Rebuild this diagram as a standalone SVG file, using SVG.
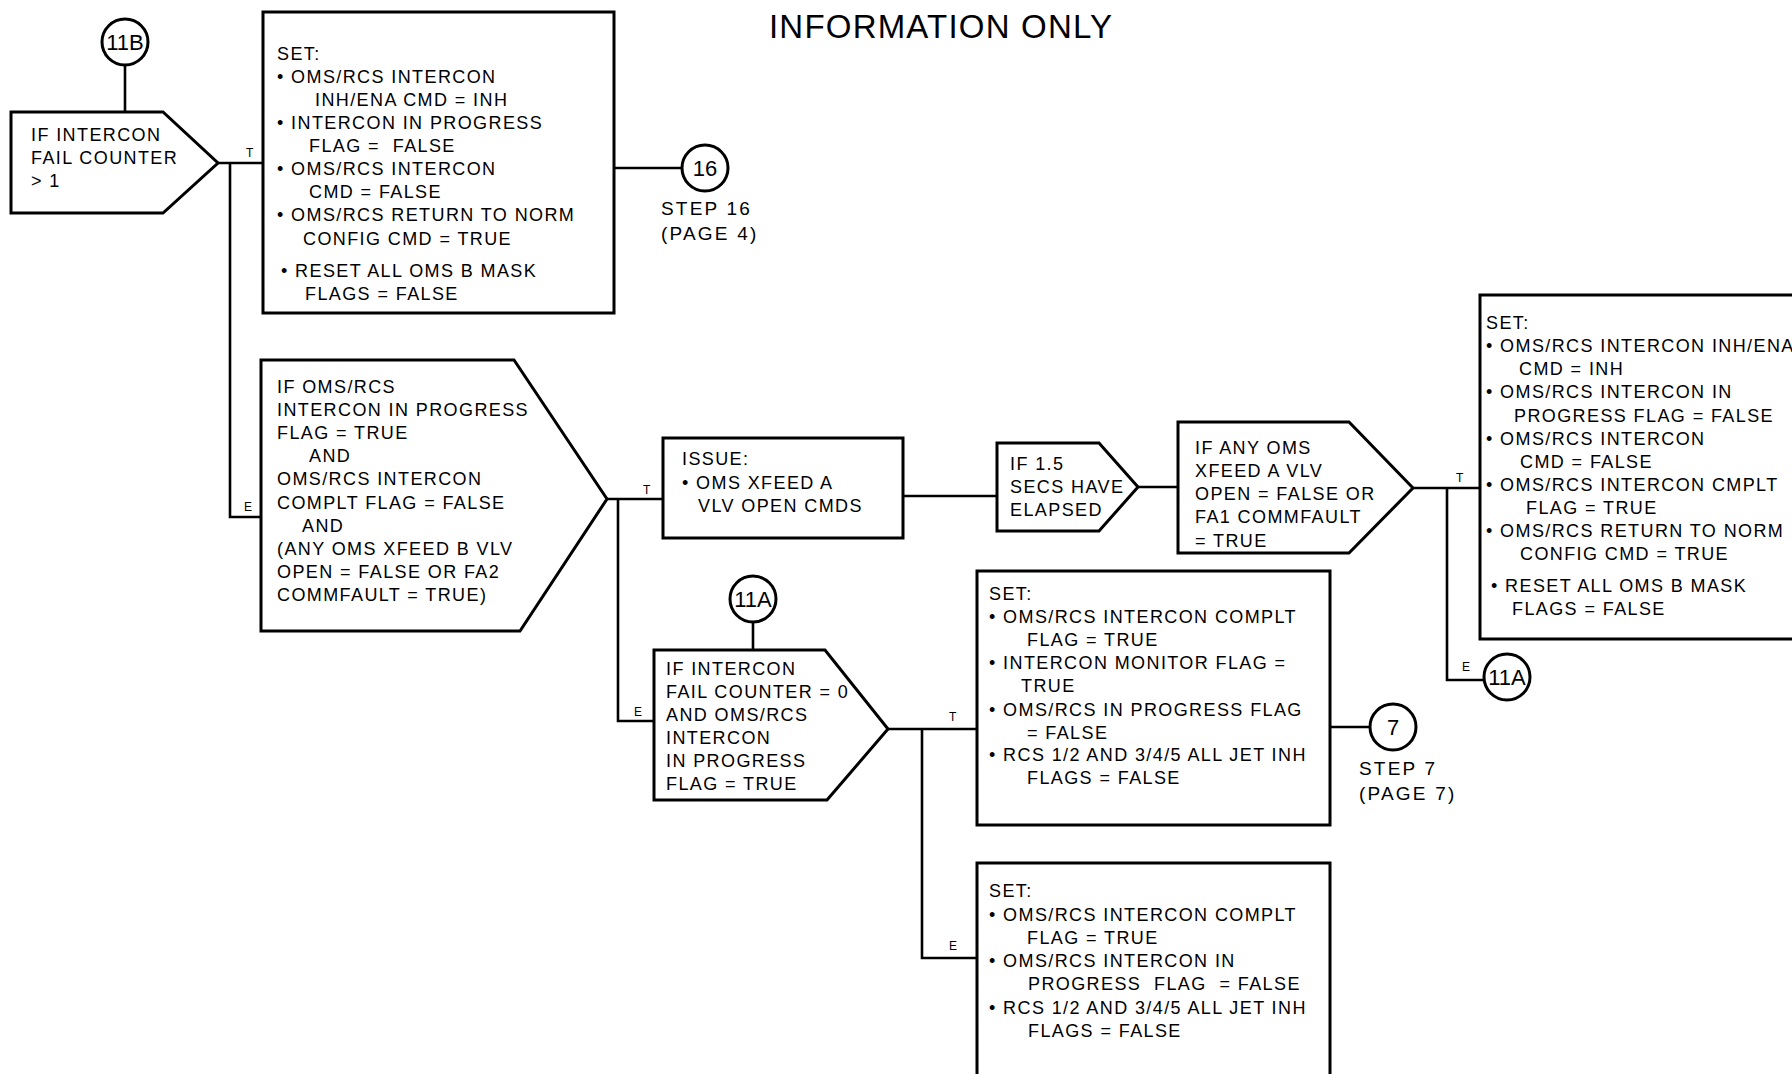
<svg xmlns="http://www.w3.org/2000/svg" width="1792" height="1074" viewBox="0 0 1792 1074">
<style>
  .bg { fill: #ffffff; }
  .shape { fill: #ffffff; stroke: #000000; stroke-width: 3; }
  .wire { fill: none; stroke: #000000; stroke-width: 2.6; }
  text { font-family: "Liberation Sans", Arial, sans-serif; fill: #000000; white-space: pre; }
  .t { font-size: 18px; letter-spacing: 1.4px; }
  .c { font-size: 22px; letter-spacing: 0px; text-anchor: middle; }
  .s { font-size: 19px; letter-spacing: 2.2px; }
  .lab { font-size: 12px; }
  .title { font-size: 33px; letter-spacing: 1.2px; }
</style>
<rect class="bg" x="0" y="0" width="1792" height="1074"/>

<text class="title" x="769" y="38">INFORMATION ONLY</text>

<g id="connectors">
  <line class="wire" x1="125" y1="65" x2="125" y2="112"/>
  <line class="wire" x1="218" y1="163" x2="263" y2="163"/>
  <polyline class="wire" points="230,163 230,517 261,517"/>
  <line class="wire" x1="614" y1="168" x2="682" y2="168"/>
  <line class="wire" x1="607" y1="499" x2="663" y2="499"/>
  <polyline class="wire" points="618,499 618,721 654,721"/>
  <line class="wire" x1="903" y1="496" x2="997" y2="496"/>
  <line class="wire" x1="1138" y1="487" x2="1178" y2="487"/>
  <line class="wire" x1="1413" y1="488" x2="1480" y2="488"/>
  <polyline class="wire" points="1447,488 1447,680 1484,680"/>
  <line class="wire" x1="753" y1="622" x2="753" y2="650"/>
  <line class="wire" x1="888" y1="729" x2="977" y2="729"/>
  <polyline class="wire" points="922,729 922,958 977,958"/>
  <line class="wire" x1="1330" y1="727" x2="1370" y2="727"/>
  <text class="lab" x="246" y="157">T</text>
  <text class="lab" x="244" y="511">E</text>
  <text class="lab" x="643" y="494">T</text>
  <text class="lab" x="634" y="716">E</text>
  <text class="lab" x="1456" y="482">T</text>
  <text class="lab" x="1462" y="671">E</text>
  <text class="lab" x="949" y="721">T</text>
  <text class="lab" x="949" y="950">E</text>
</g>

<g id="c11B">
  <circle class="shape" cx="125" cy="42" r="23"/>
  <text class="c" x="125" y="50">11B</text>
</g>

<g id="decA">
  <polygon class="shape" points="11,112 163,112 218,163 163,213 11,213"/>
  <text class="t" x="31" y="141">IF INTERCON</text>
  <text class="t" x="31" y="164">FAIL COUNTER</text>
  <text class="t" x="31" y="187">&gt; 1</text>
</g>

<g id="box1">
  <rect class="shape" x="263" y="12" width="351" height="301"/>
  <text class="t" x="277" y="60">SET:</text>
  <text class="t" x="277" y="83">• OMS/RCS INTERCON</text>
  <text class="t" x="315" y="106">INH/ENA CMD = INH</text>
  <text class="t" x="277" y="129">• INTERCON IN PROGRESS</text>
  <text class="t" x="309" y="152" xml:space="preserve">FLAG =  FALSE</text>
  <text class="t" x="277" y="175">• OMS/RCS INTERCON</text>
  <text class="t" x="309" y="198">CMD = FALSE</text>
  <text class="t" x="277" y="221">• OMS/RCS RETURN TO NORM</text>
  <text class="t" x="303" y="245">CONFIG CMD = TRUE</text>
  <text class="t" x="281" y="277">• RESET ALL OMS B MASK</text>
  <text class="t" x="305" y="300">FLAGS = FALSE</text>
</g>

<g id="c16">
  <circle class="shape" cx="705" cy="168" r="23"/>
  <text class="c" x="705" y="176">16</text>
  <text class="s" x="661" y="215">STEP 16</text>
  <text class="s" x="661" y="240">(PAGE 4)</text>
</g>

<g id="decB">
  <polygon class="shape" points="261,360 514,360 607,499 520,631 261,631"/>
  <text class="t" x="277" y="393">IF OMS/RCS</text>
  <text class="t" x="277" y="416">INTERCON IN PROGRESS</text>
  <text class="t" x="277" y="439">FLAG = TRUE</text>
  <text class="t" x="309" y="462">AND</text>
  <text class="t" x="277" y="485">OMS/RCS INTERCON</text>
  <text class="t" x="277" y="509">COMPLT FLAG = FALSE</text>
  <text class="t" x="302" y="532">AND</text>
  <text class="t" x="277" y="555">(ANY OMS XFEED B VLV</text>
  <text class="t" x="277" y="578">OPEN = FALSE OR FA2</text>
  <text class="t" x="277" y="601">COMMFAULT = TRUE)</text>
</g>

<g id="issue">
  <rect class="shape" x="663" y="438" width="240" height="100"/>
  <text class="t" x="682" y="465">ISSUE:</text>
  <text class="t" x="682" y="489">• OMS XFEED A</text>
  <text class="t" x="698" y="512">VLV OPEN CMDS</text>
</g>

<g id="decD">
  <polygon class="shape" points="997,443 1099,443 1138,487 1099,531 997,531"/>
  <text class="t" x="1010" y="470">IF 1.5</text>
  <text class="t" x="1010" y="493">SECS HAVE</text>
  <text class="t" x="1010" y="516">ELAPSED</text>
</g>

<g id="decE">
  <polygon class="shape" points="1178,422 1349,422 1413,488 1349,553 1178,553"/>
  <text class="t" x="1195" y="454">IF ANY OMS</text>
  <text class="t" x="1195" y="477">XFEED A VLV</text>
  <text class="t" x="1195" y="500">OPEN = FALSE OR</text>
  <text class="t" x="1195" y="523">FA1 COMMFAULT</text>
  <text class="t" x="1195" y="547">= TRUE</text>
</g>

<g id="boxR">
  <rect class="shape" x="1480" y="295" width="340" height="344"/>
  <text class="t" x="1486" y="329">SET:</text>
  <text class="t" x="1486" y="352">• OMS/RCS INTERCON INH/ENA</text>
  <text class="t" x="1519" y="375">CMD = INH</text>
  <text class="t" x="1486" y="398">• OMS/RCS INTERCON IN</text>
  <text class="t" x="1514" y="422">PROGRESS FLAG = FALSE</text>
  <text class="t" x="1486" y="445">• OMS/RCS INTERCON</text>
  <text class="t" x="1520" y="468">CMD = FALSE</text>
  <text class="t" x="1486" y="491">• OMS/RCS INTERCON CMPLT</text>
  <text class="t" x="1526" y="514">FLAG = TRUE</text>
  <text class="t" x="1486" y="537">• OMS/RCS RETURN TO NORM</text>
  <text class="t" x="1520" y="560">CONFIG CMD = TRUE</text>
  <text class="t" x="1491" y="592">• RESET ALL OMS B MASK</text>
  <text class="t" x="1512" y="615">FLAGS = FALSE</text>
</g>

<g id="c11A_right">
  <circle class="shape" cx="1507" cy="677" r="23"/>
  <text class="c" x="1507" y="685">11A</text>
</g>

<g id="c11A_mid">
  <circle class="shape" cx="753" cy="599" r="23"/>
  <text class="c" x="753" y="607">11A</text>
</g>

<g id="decC">
  <polygon class="shape" points="654,650 825,650 888,729 827,800 654,800"/>
  <text class="t" x="666" y="675">IF INTERCON</text>
  <text class="t" x="666" y="698">FAIL COUNTER = 0</text>
  <text class="t" x="666" y="721">AND OMS/RCS</text>
  <text class="t" x="666" y="744">INTERCON</text>
  <text class="t" x="666" y="767">IN PROGRESS</text>
  <text class="t" x="666" y="790">FLAG = TRUE</text>
</g>

<g id="boxM">
  <rect class="shape" x="977" y="571" width="353" height="254"/>
  <text class="t" x="989" y="600">SET:</text>
  <text class="t" x="989" y="623">• OMS/RCS INTERCON COMPLT</text>
  <text class="t" x="1027" y="646">FLAG = TRUE</text>
  <text class="t" x="989" y="669">• INTERCON MONITOR FLAG =</text>
  <text class="t" x="1021" y="692">TRUE</text>
  <text class="t" x="989" y="716">• OMS/RCS IN PROGRESS FLAG</text>
  <text class="t" x="1027" y="739">= FALSE</text>
  <text class="t" x="989" y="761">• RCS 1/2 AND 3/4/5 ALL JET INH</text>
  <text class="t" x="1027" y="784">FLAGS = FALSE</text>
</g>

<g id="c7">
  <circle class="shape" cx="1393" cy="727" r="23"/>
  <text class="c" x="1393" y="735">7</text>
  <text class="s" x="1359" y="775">STEP 7</text>
  <text class="s" x="1359" y="800">(PAGE 7)</text>
</g>

<g id="boxB">
  <rect class="shape" x="977" y="863" width="353" height="230"/>
  <text class="t" x="989" y="897">SET:</text>
  <text class="t" x="989" y="921">• OMS/RCS INTERCON COMPLT</text>
  <text class="t" x="1027" y="944">FLAG = TRUE</text>
  <text class="t" x="989" y="967">• OMS/RCS INTERCON IN</text>
  <text class="t" x="1028" y="990" xml:space="preserve">PROGRESS  FLAG  = FALSE</text>
  <text class="t" x="989" y="1014">• RCS 1/2 AND 3/4/5 ALL JET INH</text>
  <text class="t" x="1028" y="1037">FLAGS = FALSE</text>
</g>
</svg>
